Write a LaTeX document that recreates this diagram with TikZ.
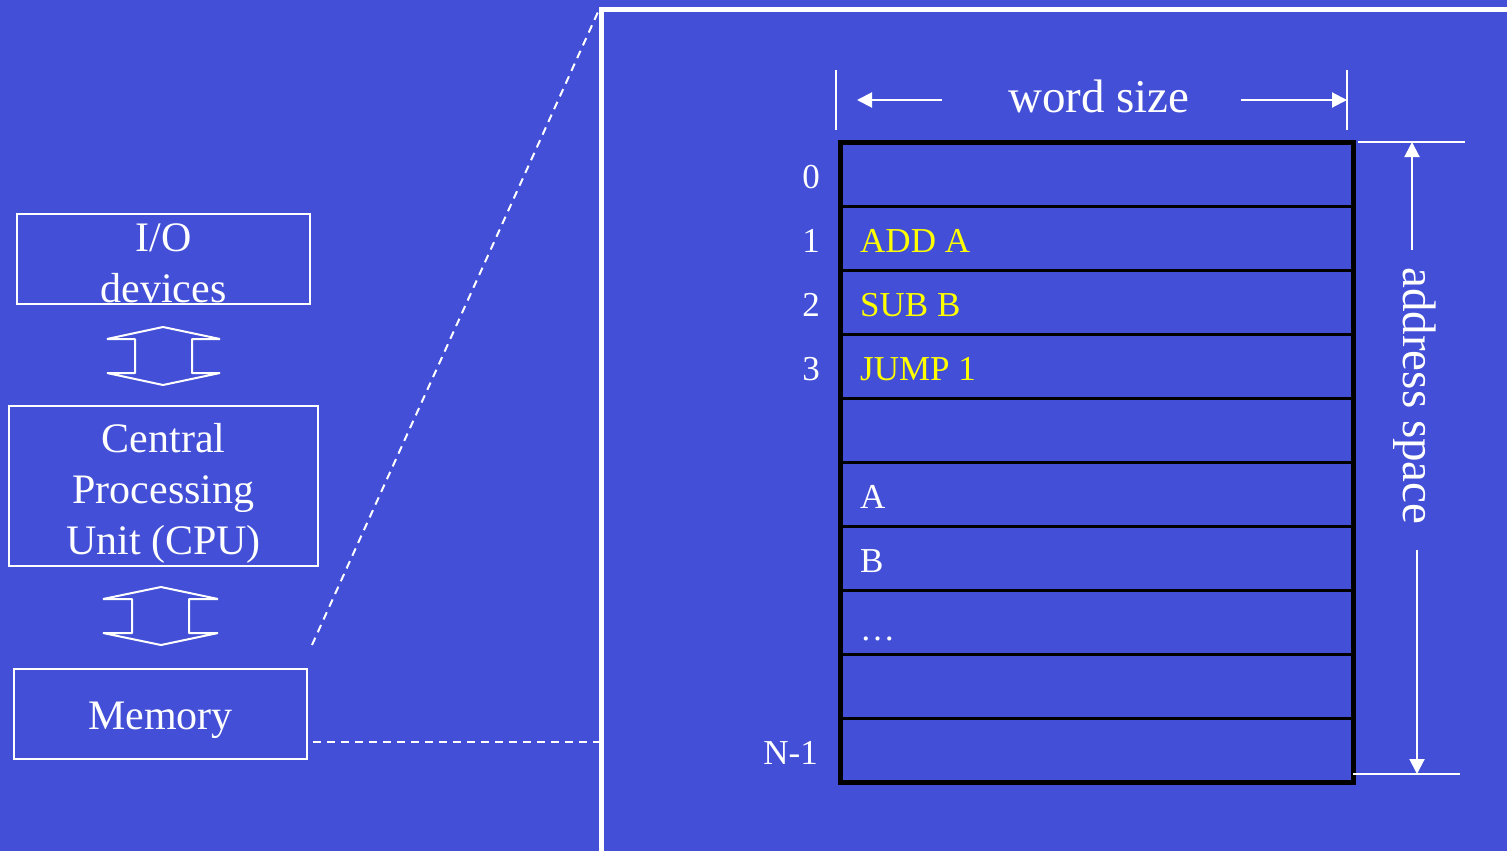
\documentclass[tikz,border=0pt]{standalone}
\usepackage{fontspec}
\setmainfont{Liberation Serif}
\usetikzlibrary{arrows.meta}
\definecolor{bg}{RGB}{66,79,214}
\definecolor{yel}{RGB}{255,255,0}
\begin{document}
\begin{tikzpicture}[x=1pt,y=-1pt,
  box/.style={draw=white, line width=2pt, inner sep=0pt},
  lbl/.style={inner sep=0pt, text=white, align=center, font=\fontsize{42}{51}\selectfont},
  cell/.style={anchor=base west, inner sep=0pt, font=\fontsize{35}{42}\selectfont},
  num/.style={anchor=base east, inner sep=0pt, text=white, font=\fontsize{35}{42}\selectfont},
  big/.style={inner sep=0pt, text=white, font=\fontsize{47}{56}\selectfont},
  wline/.style={draw=white, line width=2pt},
  warrow/.style={draw=white, line width=2pt, -{Triangle[length=15pt,width=15pt]}},
  dline/.style={draw=white, line width=2pt, dash pattern=on 8pt off 6pt},
  dbl/.style={draw=white, line width=2pt, line join=bevel}
]
\useasboundingbox (0,0) rectangle (1507,851);
\fill[bg] (0,0) rectangle (1507,851);

% left side boxes
\node[box, minimum width=293pt, minimum height=90pt] (io) at (163.5,259) {};
\node[lbl] (iot) at (163.5,263) {I/O\\devices};
\node[box, minimum width=309pt, minimum height=160pt] (cpu) at (163.5,486) {};
\node[lbl] (cput) at (163.5,493) {Central\\Processing\\Unit (CPU)};
\node[box, minimum width=293pt, minimum height=90pt] (mem) at (160.5,714) {};
\node[lbl] (memt) at (160.5,720) {Memory};

% double arrows
\draw[dbl] (163,327) -- (220,339) -- (192,339) -- (192,373) -- (220,373) -- (163,385)
  -- (107,373) -- (135,373) -- (135,339) -- (107,339) -- cycle;
\draw[dbl] (161,587) -- (218,599) -- (189,599) -- (189,633) -- (218,633) -- (161,645)
  -- (103,633) -- (132,633) -- (132,599) -- (103,599) -- cycle;

% zoom panel
\coordinate (pc) at (601,10);
\coordinate (pb) at (601,742);
\coordinate (md) at (312,645);
\coordinate (mh) at (313,742);
\draw[dline] (md) -- (598,12);
\draw[dline] (mh) -- (pb);
\draw[draw=white, line width=5pt] (601,851) -- (pc) -- (1507,10);

% memory grid
\foreach \i in {1,...,9} {
  \draw[black, line width=3pt] (840,142+64*\i) -- (1353,142+64*\i);
}
\draw[black, line width=5pt] (840,142) rectangle (1353,782);

% row numbers
\node[num] (n0) at (820,188.5) {0};
\node[num] (n1) at (820,252.5) {1};
\node[num] (n2) at (820,316.5) {2};
\node[num] (n3) at (820,380.5) {3};
\node[num] (nN) at (818,764.5) {N-1};

% row contents
\node[cell, text=yel] (c1) at (860,252.5) {ADD A};
\node[cell, text=yel] (c2) at (860,316.5) {SUB B};
\node[cell, text=yel] (c3) at (860,380.5) {JUMP 1};
\node[cell, text=white] (c5) at (860,508.5) {A};
\node[cell, text=white] (c6) at (860,572.5) {B};
\node[cell, text=white] (c7) at (860,640.5) {…};

% word size
\coordinate (wl1) at (836,70); \coordinate (wl2) at (836,130);
\coordinate (wr1) at (1347,70); \coordinate (wr2) at (1347,130);
\draw[wline] (wl1) -- (wl2);
\draw[wline] (wr1) -- (wr2);
\node[big, anchor=base] (ws) at (1099,112) {word size};
\coordinate (wa1) at (942,100); \coordinate (wa2) at (857,100);
\coordinate (wb1) at (1241,100); \coordinate (wb2) at (1347,100);
\draw[warrow] (wa1) -- (wa2);
\draw[warrow] (wb1) -- (wb2);

% address space
\coordinate (at1) at (1358,142); \coordinate (at2) at (1465,142);
\coordinate (ab1) at (1353,774); \coordinate (ab2) at (1460,774);
\draw[wline] (at1) -- (at2);
\draw[wline] (ab1) -- (ab2);
\node[big, rotate=-90] (as) at (1415,396) {address space};
\coordinate (aa1) at (1412,250); \coordinate (aa2) at (1412,142);
\coordinate (ac1) at (1417,550); \coordinate (ac2) at (1417,774);
\draw[warrow] (aa1) -- (aa2);
\draw[warrow] (ac1) -- (ac2);
\end{tikzpicture}
\end{document}
